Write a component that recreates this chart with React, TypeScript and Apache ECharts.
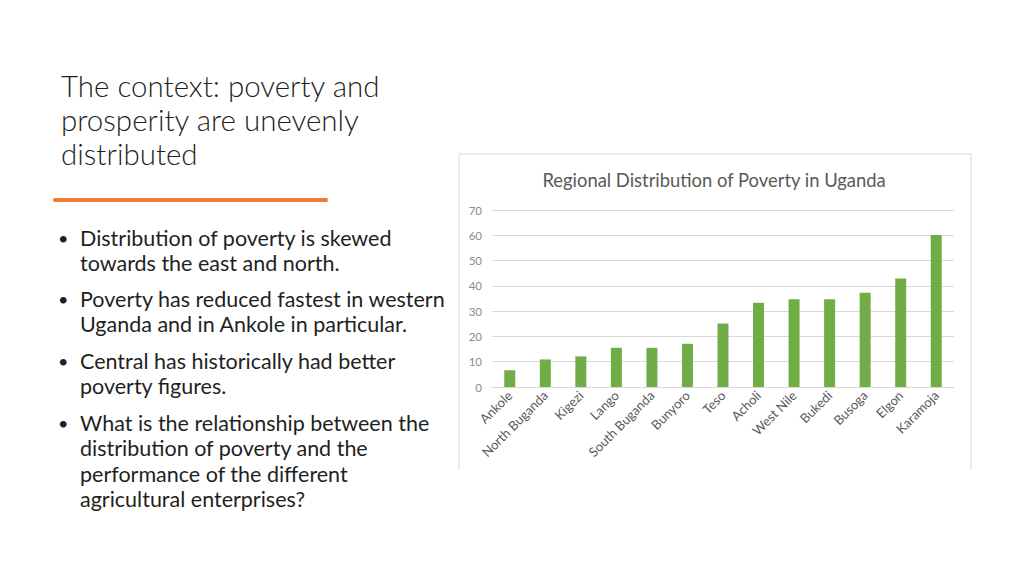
import React, { useEffect, useRef } from "react";
import * as echarts from "echarts";

const categories = [
  "Ankole", "North Buganda", "Kigezi", "Lango", "South Buganda", "Bunyoro",
  "Teso", "Acholi", "West Nile", "Bukedi", "Busoga", "Elgon", "Karamoja",
];
const povertyValues = [6.6, 10.9, 12.1, 15.5, 15.5, 17.1, 25.1, 33.3, 34.7, 34.7, 37.3, 42.9, 60.1];

const chartTitle = "Regional Distribution of Poverty in Uganda";
const slideTitleLines = ["The context: poverty and", "prosperity are unevenly", "distributed"];
const bullets: string[][] = [
  ["Distribution of poverty is skewed", "towards the east and north."],
  ["Poverty has reduced fastest in western", "Uganda and in Ankole in particular."],
  ["Central has historically had better", "poverty figures."],
  ["What is the relationship between the", "distribution of poverty and the", "performance of the different", "agricultural enterprises?"],
];

export default function App() {
  const ref = useRef<HTMLDivElement>(null);
  useEffect(() => {
    if (!ref.current) return;
    const chart = echarts.init(ref.current, null, { renderer: "svg" });

    const graphics: any[] = [];
    // slide title
    slideTitleLines.forEach((line, i) => {
      graphics.push({
        type: "text",
        x: 61,
        y: 85 + i * 34,
        style: {
          text: line,
          font: '300 29.5px Lato, "Open Sans", sans-serif',
          fill: "#1f1f1f",
          verticalAlign: "middle",
        },
      });
    });
    // orange rule
    graphics.push({
      type: "rect",
      shape: { x: 53, y: 198, width: 275, height: 4, r: 2 },
      style: { fill: "#ED7D31" },
    });
    // bullets
    const paraStarts = [237.5, 298.5, 360.5, 422.5];
    bullets.forEach((b, i) => {
      const y0 = paraStarts[i];
      graphics.push({
        type: "text",
        x: 58,
        y: y0,
        style: { text: "•", font: "18px Lato, sans-serif", fill: "#1f1f1f", verticalAlign: "middle" },
      });
      b.forEach((line, j) => {
        graphics.push({
          type: "text",
          x: 80,
          y: y0 + j * 25.5,
          style: {
            text: line,
            font: "21.5px Lato, sans-serif",
            fill: "#1f1f1f",
            verticalAlign: "middle",
          },
        });
      });
    });
    // chart picture border (left, top, right)
    graphics.push({
      type: "polyline",
      shape: { points: [[459, 470], [459, 154], [971, 154], [971, 470]] },
      style: { stroke: "#d9d9d9", lineWidth: 1, fill: null },
    });

    chart.setOption({
      animation: false,
      backgroundColor: "#ffffff",
      title: {
        text: chartTitle,
        left: 709,
        top: 166,
        textAlign: "center",
        textStyle: {
          fontFamily: "Lato, sans-serif",
          fontWeight: "normal",
          fontSize: 18.4,
          color: "#595959",
        },
      },
      grid: { left: 492, right: 70, top: 210, bottom: 189, containLabel: false },
      xAxis: {
        type: "category",
        data: categories,
        axisTick: { show: false },
        axisLine: { lineStyle: { color: "#d9d9d9" } },
        axisLabel: {
          interval: 0,
          rotate: 45,
          fontSize: 13,
          fontFamily: "Lato, sans-serif",
          color: "#595959",
          margin: 6,
        },
      },
      yAxis: {
        type: "value",
        min: 0,
        max: 70,
        interval: 10,
        axisLine: { show: false },
        axisTick: { show: false },
        splitLine: { lineStyle: { color: "#d9d9d9" } },
        axisLabel: {
          fontSize: 11.5,
          fontFamily: "Lato, sans-serif",
          color: "#8c8c8c",
          margin: 10,
        },
      },
      series: [
        {
          type: "bar",
          data: povertyValues,
          barWidth: 11,
          itemStyle: { color: "#70AD47" },
        },
      ],
      graphic: graphics,
    });
    return () => chart.dispose();
  }, []);
  return (
    <div
      ref={ref}
      style={{ position: "fixed", left: 0, top: 0, width: 1024, height: 576 }}
    />
  );
}
